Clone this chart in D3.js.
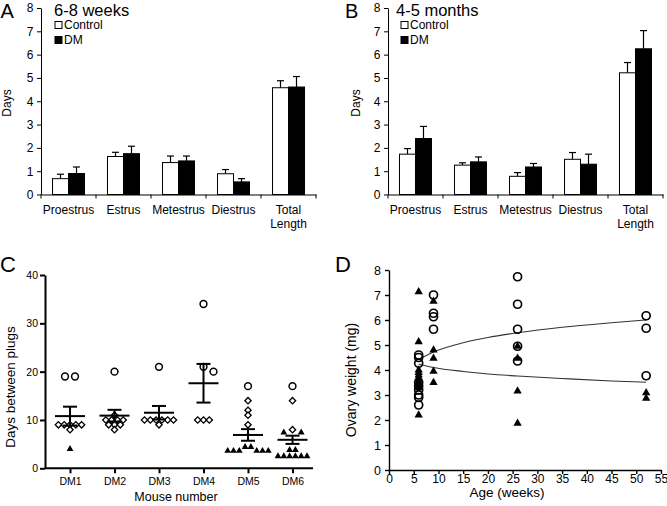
<!DOCTYPE html>
<html>
<head>
<meta charset="utf-8">
<script src="https://cdnjs.cloudflare.com/ajax/libs/d3/7.8.5/d3.min.js"></script>
<style>
body { margin: 0; background: #fff; }
svg { font-family: "Liberation Sans", Arial, sans-serif; }
</style>
</head>
<body>
<svg></svg>
<script>
// A / B: length of each cycle stage (days)
let stages = ["Proestrus", "Estrus", "Metestrus", "Diestrus", "Total Length"];
let daysTicks = [0, 1, 2, 3, 4, 5, 6, 7, 8];
let youngControl = [0.68, 1.63, 1.37, 0.89, 4.58];
let youngControlErr = [0.19, 0.18, 0.28, 0.18, 0.3];
let youngDM = [0.9, 1.75, 1.44, 0.54, 4.61];
let youngDMErr = [0.28, 0.32, 0.21, 0.14, 0.45];
let oldControl = [1.73, 1.26, 0.78, 1.51, 5.22];
let oldControlErr = [0.24, 0.1, 0.16, 0.29, 0.44];
let oldDM = [2.4, 1.4, 1.18, 1.3, 6.25];
let oldDMErr = [0.52, 0.21, 0.15, 0.43, 0.78];

// C: days between plugs per mouse
let mice = ["DM1", "DM2", "DM3", "DM4", "DM5", "DM6"];
let plugTicks = [0, 10, 20, 30, 40];
let plugCircles = [[19, 19], [20], [21], [34, 21, 20], [17], [17]];
let plugDiamonds = [[9, 9, 9, 9, 9, 8], [11, 10, 10, 10, 10, 9, 9, 9, 8], [10, 10, 10, 10, 10, 10, 9], [10, 10, 10], [14, 12, 11, 9], [14, 8]];
let plugTriangles = [[4], [], [], [], [4.4, 4.4, 3.6, 3.6, 3.6, 3.6, 3.6, 3.6], [7.4, 7.4, 3.8, 3.8, 2.5, 2.5, 2.5, 2.5, 2.5, 2.5]];
let plugMean = [10.8, 10.9, 11.5, 17.6, 6.9, 5.9];
let plugSem = [1.95, 1.2, 1.4, 4.0, 1.2, 0.85];

// D: ovary weight vs age
let ageTicks = [0, 5, 10, 15, 20, 25, 30, 35, 40, 45, 50, 55];
let weightTicks = [0, 1, 2, 3, 4, 5, 6, 7, 8];
let controlAge = [6, 6, 6, 6, 6, 6, 6, 6, 6, 9, 9, 9, 9, 26, 26, 26, 26, 26, 52, 52, 52];
let controlWeight = [4.6, 4.5, 4.27, 3.5, 3.35, 3.2, 3.0, 2.9, 2.6, 7.0, 6.27, 6.13, 5.63, 7.73, 6.63, 5.63, 4.95, 4.36, 6.17, 5.67, 3.77];
let dmAge = [6, 6, 6, 6, 6, 6, 6, 6, 6, 6, 6, 9, 9, 9, 9, 9, 26, 26, 26, 26, 52, 52];
let dmWeight = [7.13, 5.13, 4.0, 3.9, 3.8, 3.7, 3.6, 3.5, 3.4, 3.3, 2.2, 6.75, 4.8, 4.47, 3.95, 3.5, 4.95, 4.47, 3.16, 1.87, 3.09, 2.87];
let fitAge = [6, 9, 15, 20, 26, 35, 45, 52];
let fitControl = [4.42, 4.72, 5.09, 5.3, 5.49, 5.71, 5.89, 6.0];
let fitDM = [4.23, 4.1, 3.94, 3.84, 3.76, 3.66, 3.56, 3.51];

let svg = d3.select("svg").attr("width", 667).attr("height", 506);
let font = '"Liberation Sans", Arial, sans-serif';

let styleAxis = (g, size) => {
    g.selectAll("text").attr("font-size", size).attr("font-family", font).attr("fill", "#000");
    g.selectAll("line, path").attr("stroke", "#000");
};

let drawBarPanel = (p) => {
    let g = svg.append("g");
    let y = d3.scaleLinear().domain([0, 8]).range([194.5, 8]);
    let x = d3.scaleBand().domain(stages).range([p.left, p.left + 275]);
    let sub = d3.scaleBand().domain(["control", "dm"]).range([-16, 16]);

    let rows = stages.map((s, i) => ({
        stage: s,
        control: p.control[i], controlErr: p.controlErr[i],
        dm: p.dm[i], dmErr: p.dmErr[i]
    }));

    let series = [{key: "control", fill: "#fff"}, {key: "dm", fill: "#000"}];
    series.forEach(sr => {
        let cx = (d) => x(d.stage) + x.bandwidth() / 2 + sub(sr.key) + sub.bandwidth() / 2;
        // error bars (upper only)
        g.selectAll(null).data(rows).enter().append("line")
            .attr("x1", cx).attr("x2", cx)
            .attr("y1", d => y(d[sr.key])).attr("y2", d => y(d[sr.key] + d[sr.key + "Err"]))
            .attr("stroke", "#000").attr("stroke-width", 1.2);
        g.selectAll(null).data(rows).enter().append("line")
            .attr("x1", d => cx(d) - 3.5).attr("x2", d => cx(d) + 3.5)
            .attr("y1", d => y(d[sr.key] + d[sr.key + "Err"])).attr("y2", d => y(d[sr.key] + d[sr.key + "Err"]))
            .attr("stroke", "#000").attr("stroke-width", 1.2);
        g.selectAll(null).data(rows).enter().append("rect")
            .attr("x", d => x(d.stage) + x.bandwidth() / 2 + sub(sr.key))
            .attr("width", sub.bandwidth())
            .attr("y", d => y(d[sr.key]))
            .attr("height", d => y(0) - y(d[sr.key]))
            .attr("fill", sr.fill).attr("stroke", "#000").attr("stroke-width", 1);
    });

    let yAxis = g.append("g").attr("transform", "translate(" + p.left + ",0)")
        .call(d3.axisLeft(y).tickValues(daysTicks).tickSize(4).tickSizeOuter(0).tickPadding(3.5));
    styleAxis(yAxis, 12);

    let xAxis = g.append("g").attr("transform", "translate(0," + y(0) + ")")
        .call(d3.axisBottom(x).tickSize(0).tickSizeOuter(0).tickFormat(""));
    styleAxis(xAxis, 12);
    let edges = stages.map(s => x(s)).concat([x.range()[1]]);
    g.selectAll(null).data(edges).enter().append("line")
        .attr("x1", d => d).attr("x2", d => d)
        .attr("y1", y(0)).attr("y2", y(0) + 4)
        .attr("stroke", "#000");

    let labels = g.selectAll(null).data(stages).enter().append("text")
        .attr("x", d => x(d) + x.bandwidth() / 2)
        .attr("y", 214)
        .attr("text-anchor", "middle")
        .attr("font-size", 12);
    labels.each(function(d) {
        d.split(" ").forEach((w, i) => {
            d3.select(this).append("tspan")
                .attr("x", x(d) + x.bandwidth() / 2)
                .attr("dy", i ? 14 : 0)
                .text(w);
        });
    });

    g.append("text")
        .attr("transform", "translate(" + p.labelX + ",103) rotate(-90)")
        .attr("text-anchor", "middle").attr("font-size", 12)
        .text("Days");

    g.append("text").attr("x", p.letterX).attr("y", 17.5).attr("font-size", 20).text(p.letter);
    g.append("text").attr("x", p.titleX).attr("y", 15.5).attr("font-size", 16.5).text(p.title);

    // legend
    g.append("rect").attr("x", p.legendX).attr("y", 21.5).attr("width", 7).attr("height", 7)
        .attr("fill", "#fff").attr("stroke", "#000");
    g.append("rect").attr("x", p.legendX).attr("y", 36.5).attr("width", 7).attr("height", 7)
        .attr("fill", "#000").attr("stroke", "#000");
    g.append("text").attr("x", p.legendX + 9).attr("y", 28.5).attr("font-size", 12).text("Control");
    g.append("text").attr("x", p.legendX + 9).attr("y", 43.5).attr("font-size", 12).text("DM");
};

drawBarPanel({left: 41, control: youngControl, controlErr: youngControlErr, dm: youngDM, dmErr: youngDMErr,
    letter: "A", letterX: 0.5, title: "6-8 weeks", titleX: 54, legendX: 55, labelX: 11});
drawBarPanel({left: 388, control: oldControl, controlErr: oldControlErr, dm: oldDM, dmErr: oldDMErr,
    letter: "B", letterX: 345, title: "4-5 months", titleX: 396, legendX: 401, labelX: 360});

// ---------- panel C ----------
let drawPlugs = () => {
    let g = svg.append("g");
    let y = d3.scaleLinear().domain([0, 40]).range([468.3, 275]);
    let x = d3.scalePoint().domain(mice).range([70, 292.5]);

    // spread equal values sideways, avoid overlaps with points already placed
    let placeSwarm = (groups, cx) => {
        let placed = [];
        groups.forEach(gr => {
            let gap = gr.shape === "circle" ? 10 : 5.8;
            let py = y(gr.v);
            let cands = [];
            for (let j = 0; j < 20; j++) {
                if (gr.n % 2) { if (j === 0) cands.push(0); else cands.push(j, -j); }
                else cands.push(j + 0.5, -(j + 0.5));
            }
            let count = 0;
            for (let c of cands) {
                if (count >= gr.n) break;
                let px = cx + c * gap;
                let hit = placed.some(p => {
                    let dyMax = (p.shape === "circle" || gr.shape === "circle") ? 6.5 : 4.5;
                    return Math.abs(p.x - px) < (gap + p.gap) / 2 * 0.9 && Math.abs(p.y - py) < dyMax;
                });
                if (!hit) { placed.push({x: px, y: py, shape: gr.shape, gap: gap}); count++; }
            }
        });
        return placed;
    };

    let points = [];
    mice.forEach((m, i) => {
        let groups = [];
        [["circle", plugCircles[i]], ["diamond", plugDiamonds[i]], ["triangle", plugTriangles[i]]].forEach(([shape, vals]) => {
            d3.rollups(vals, v => v.length, v => v).forEach(([v, n]) => groups.push({shape: shape, v: v, n: n}));
        });
        groups.sort((a, b) => b.v - a.v);
        points = points.concat(placeSwarm(groups, x(m)));
    });

    g.selectAll(null).data(points.filter(p => p.shape === "circle")).enter().append("circle")
        .attr("cx", d => d.x).attr("cy", d => d.y).attr("r", 3.4)
        .attr("fill", "#fff").attr("stroke", "#000").attr("stroke-width", 1.5);
    g.selectAll(null).data(points.filter(p => p.shape === "diamond")).enter().append("path")
        .attr("d", d3.symbol(d3.symbolSquare, 20))
        .attr("transform", d => "translate(" + d.x + "," + d.y + ") rotate(45)")
        .attr("fill", "#fff").attr("stroke", "#000").attr("stroke-width", 1.3);
    g.selectAll(null).data(points.filter(p => p.shape === "triangle")).enter().append("path")
        .attr("d", d3.symbol(d3.symbolTriangle, 20))
        .attr("transform", d => "translate(" + d.x + "," + d.y + ")")
        .attr("fill", "#000");

    // mean +/- SEM
    let stats = mice.map((m, i) => ({m: m, mean: plugMean[i], sem: plugSem[i]}));
    g.selectAll(null).data(stats).enter().append("line")
        .attr("x1", d => x(d.m) - 15).attr("x2", d => x(d.m) + 15)
        .attr("y1", d => y(d.mean)).attr("y2", d => y(d.mean))
        .attr("stroke", "#000").attr("stroke-width", 2);
    g.selectAll(null).data(stats).enter().append("line")
        .attr("x1", d => x(d.m)).attr("x2", d => x(d.m))
        .attr("y1", d => y(d.mean - d.sem)).attr("y2", d => y(d.mean + d.sem))
        .attr("stroke", "#000").attr("stroke-width", 2);
    [-1, 1].forEach(s => {
        g.selectAll(null).data(stats).enter().append("line")
            .attr("x1", d => x(d.m) - 7).attr("x2", d => x(d.m) + 7)
            .attr("y1", d => y(d.mean + s * d.sem)).attr("y2", d => y(d.mean + s * d.sem))
            .attr("stroke", "#000").attr("stroke-width", 2);
    });

    let yAxis = g.append("g").attr("transform", "translate(45,0)")
        .call(d3.axisLeft(y).tickValues(plugTicks).tickSize(5).tickSizeOuter(0).tickPadding(2));
    styleAxis(yAxis, 10.5);
    yAxis.selectAll("line, path").attr("stroke-width", 2);

    let xAxis = g.append("g").attr("transform", "translate(0," + y(0) + ")")
        .call(d3.axisBottom(x).tickSize(5).tickPadding(4));
    styleAxis(xAxis, 10.5);
    xAxis.select(".domain").attr("d", "M45,0H313");
    xAxis.selectAll("line, path").attr("stroke-width", 2);

    g.append("text").attr("x", 176).attr("y", 500.5).attr("text-anchor", "middle")
        .attr("font-size", 12.5).text("Mouse number");
    g.append("text").attr("transform", "translate(15,387) rotate(-90)")
        .attr("text-anchor", "middle").attr("font-size", 13.5).text("Days between plugs");
    g.append("text").attr("x", 0).attr("y", 272).attr("font-size", 22).text("C");
};
drawPlugs();

// ---------- panel D ----------
let drawOvary = () => {
    let g = svg.append("g");
    let x = d3.scaleLinear().domain([0, 55]).range([389, 661]);
    let y = d3.scaleLinear().domain([0, 8]).range([470, 270]);

    let line = d3.line().x(d => x(d[0])).y(d => y(d[1])).curve(d3.curveMonotoneX);
    [fitControl, fitDM].forEach(f => {
        g.append("path").datum(fitAge.map((a, i) => [a, f[i]]))
            .attr("d", line).attr("fill", "none").attr("stroke", "#333").attr("stroke-width", 1.1);
    });

    g.selectAll(null).data(dmAge.map((a, i) => [a, dmWeight[i]])).enter().append("path")
        .attr("d", d3.symbol(d3.symbolTriangle, 30))
        .attr("transform", d => "translate(" + x(d[0]) + "," + y(d[1]) + ")")
        .attr("fill", "#000");
    g.selectAll(null).data(controlAge.map((a, i) => [a, controlWeight[i]])).enter().append("circle")
        .attr("cx", d => x(d[0])).attr("cy", d => y(d[1])).attr("r", 4)
        .attr("fill", "none").attr("stroke", "#000").attr("stroke-width", 1.7);

    let yAxis = g.append("g").attr("transform", "translate(389,0)")
        .call(d3.axisLeft(y).tickValues(weightTicks).tickSize(4).tickSizeOuter(0).tickPadding(4));
    styleAxis(yAxis, 12.5);
    yAxis.selectAll("line, path").attr("stroke-width", 1.4);

    let xAxis = g.append("g").attr("transform", "translate(0,470)")
        .call(d3.axisBottom(x).tickValues(ageTicks).tickSize(4).tickSizeOuter(0).tickPadding(0.5));
    styleAxis(xAxis, 12);
    xAxis.selectAll("line, path").attr("stroke-width", 1.4);

    g.append("text").attr("x", 507).attr("y", 497).attr("text-anchor", "middle")
        .attr("font-size", 13.5).text("Age (weeks)");
    g.append("text").attr("transform", "translate(356,380) rotate(-90)")
        .attr("text-anchor", "middle").attr("font-size", 14).text("Ovary weight (mg)");
    g.append("text").attr("x", 335).attr("y", 272).attr("font-size", 22).text("D");
};
drawOvary();
</script>
</body>
</html>
